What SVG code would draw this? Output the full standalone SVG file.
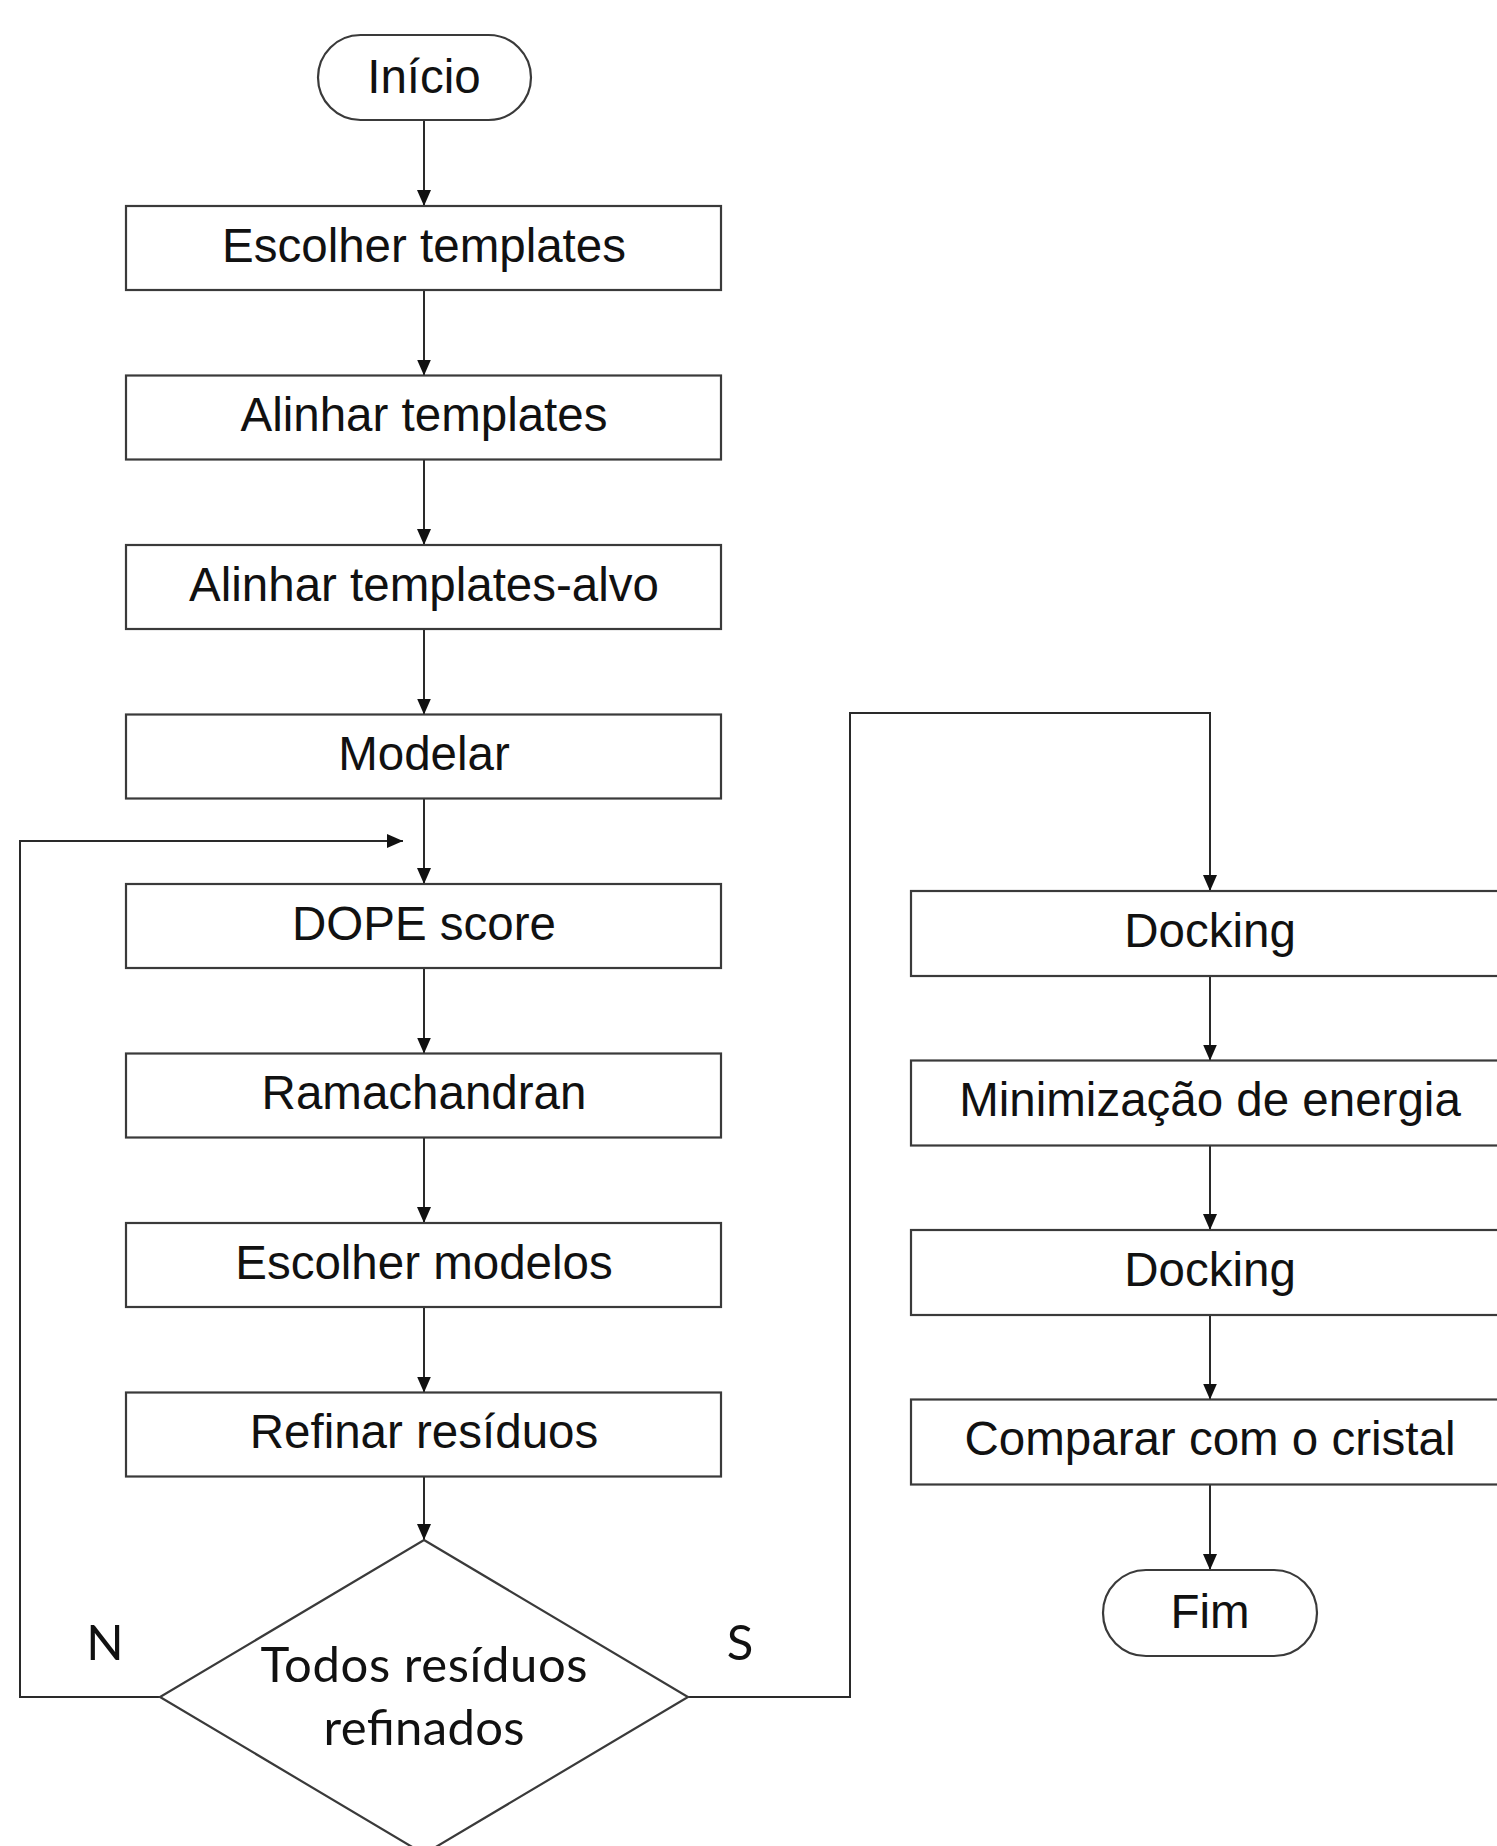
<svg xmlns="http://www.w3.org/2000/svg" width="1497" height="1846" viewBox="0 0 1497 1846">
<style>
.box{fill:#fff;stroke:#3a3a3a;stroke-width:2.2}
.t{font-family:"Liberation Sans",Arial,sans-serif;font-size:47.5px;fill:#111;text-anchor:middle}
.c{font-family:Lato,"Open Sans",sans-serif;font-size:49px;fill:#111;text-anchor:middle}
.ln{fill:none;stroke:#2a2a2a;stroke-width:2}
</style>
<defs>
<marker id="ah" markerUnits="userSpaceOnUse" markerWidth="16" markerHeight="14" refX="16" refY="7" orient="auto">
<path d="M0,0 L16,7 L0,14 z" fill="#111"/>
</marker>
</defs>
<rect width="1497" height="1846" fill="#fff"/>
<g id="connectors">
<path class="ln" d="M424,120 V206" marker-end="url(#ah)"/>
<path class="ln" d="M424,290 V375.5" marker-end="url(#ah)"/>
<path class="ln" d="M424,459.5 V545" marker-end="url(#ah)"/>
<path class="ln" d="M424,629 V714.5" marker-end="url(#ah)"/>
<path class="ln" d="M424,798.5 V884" marker-end="url(#ah)"/>
<path class="ln" d="M424,968 V1053.5" marker-end="url(#ah)"/>
<path class="ln" d="M424,1137.5 V1223" marker-end="url(#ah)"/>
<path class="ln" d="M424,1307 V1392.5" marker-end="url(#ah)"/>
<path class="ln" d="M424,1476.5 V1540" marker-end="url(#ah)"/>
<path class="ln" d="M160,1697 H20 V841 H403" marker-end="url(#ah)"/>
<path class="ln" d="M688,1697 H850 V713 H1210 V891" marker-end="url(#ah)"/>
<path class="ln" d="M1210,976 V1060.5" marker-end="url(#ah)"/>
<path class="ln" d="M1210,1145.5 V1230" marker-end="url(#ah)"/>
<path class="ln" d="M1210,1315 V1399.5" marker-end="url(#ah)"/>
<path class="ln" d="M1210,1484.5 V1570" marker-end="url(#ah)"/>
</g>
<g id="inicio"><rect class="box" x="318" y="35" width="213" height="85" rx="42.5" ry="42.5"/><text class="t" x="424" y="93">Início</text></g>
<g id="escolher-templates"><rect class="box" x="126" y="206" width="595" height="84"/><text class="t" x="424" y="261.5">Escolher templates</text></g>
<g id="alinhar-templates"><rect class="box" x="126" y="375.5" width="595" height="84"/><text class="t" x="424" y="431">Alinhar templates</text></g>
<g id="alinhar-templates-alvo"><rect class="box" x="126" y="545" width="595" height="84"/><text class="t" x="424" y="600.5">Alinhar templates-alvo</text></g>
<g id="modelar"><rect class="box" x="126" y="714.5" width="595" height="84"/><text class="t" x="424" y="770">Modelar</text></g>
<g id="dope-score"><rect class="box" x="126" y="884" width="595" height="84"/><text class="t" x="424" y="939.5">DOPE score</text></g>
<g id="ramachandran"><rect class="box" x="126" y="1053.5" width="595" height="84"/><text class="t" x="424" y="1109">Ramachandran</text></g>
<g id="escolher-modelos"><rect class="box" x="126" y="1223" width="595" height="84"/><text class="t" x="424" y="1278.5">Escolher modelos</text></g>
<g id="refinar-residuos"><rect class="box" x="126" y="1392.5" width="595" height="84"/><text class="t" x="424" y="1448">Refinar resíduos</text></g>
<g id="decisao">
<polygon class="box" points="424,1540 688,1697 424,1854 160,1697"/>
<text class="c" x="424" y="1682" textLength="327">Todos resíduos</text>
<text class="c" x="424" y="1745" textLength="201">refinados</text>
</g>
<g id="label-n"><text class="c" x="105" y="1660" font-size="46">N</text></g>
<g id="label-s"><text class="c" x="740" y="1660" font-size="46">S</text></g>
<g id="docking-1"><rect class="box" x="911" y="891" width="598" height="85"/><text class="t" x="1210" y="946.5">Docking</text></g>
<g id="minimizacao"><rect class="box" x="911" y="1060.5" width="598" height="85"/><text class="t" x="1210" y="1116">Minimização de energia</text></g>
<g id="docking-2"><rect class="box" x="911" y="1230" width="598" height="85"/><text class="t" x="1210" y="1285.5">Docking</text></g>
<g id="comparar"><rect class="box" x="911" y="1399.5" width="598" height="85"/><text class="t" x="1210" y="1455">Comparar com o cristal</text></g>
<g id="fim"><rect class="box" x="1103" y="1570" width="214" height="86" rx="43" ry="43"/><text class="t" x="1210" y="1628">Fim</text></g>
</svg>
